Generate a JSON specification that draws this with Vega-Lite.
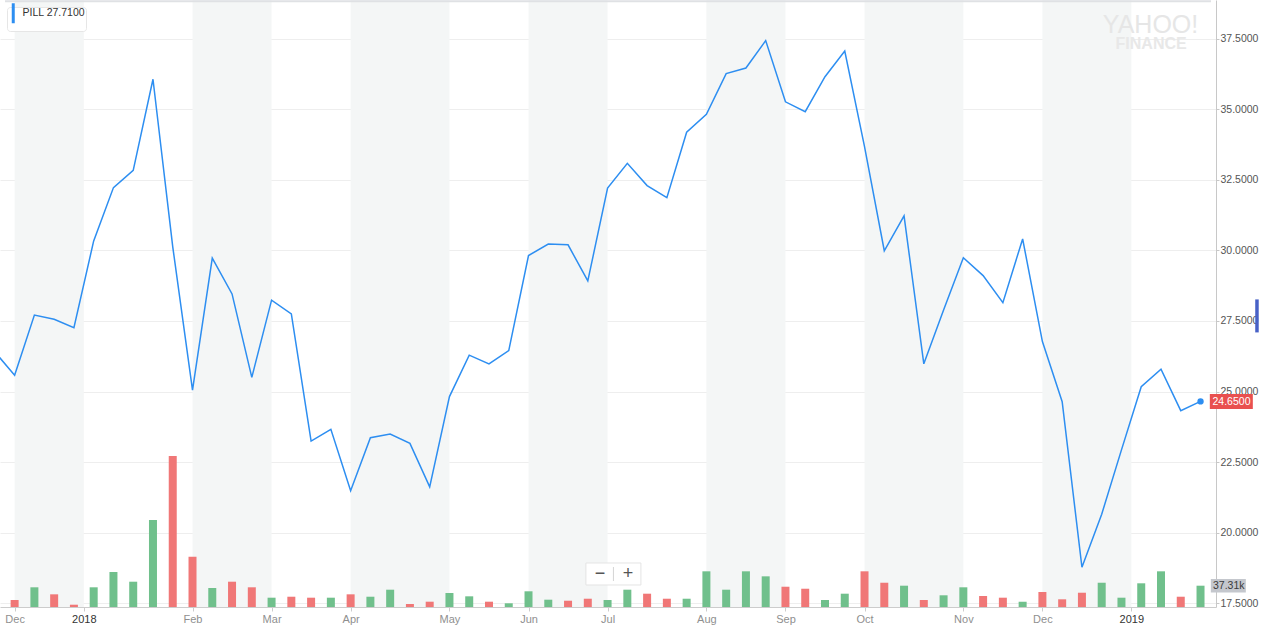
{
  "$schema": "https://vega.github.io/schema/vega-lite/v6.json",
  "width": 1264,
  "height": 629,
  "padding": 0,
  "autosize": {"type": "fit", "contains": "padding"},
  "background": "#ffffff",
  "config": {"view": {"stroke": null}, "font": "Liberation Sans"},
  "datasets": {
    "weekly": [
      {"date": "2017-11-27", "i": -1, "close": 26.40, "volume": null, "change": null},
      {"date": "2017-12-04", "i": 0, "close": 25.58, "volume": 12300, "change": "down"},
      {"date": "2017-12-11", "i": 1, "close": 27.71, "volume": 34500, "change": "up"},
      {"date": "2017-12-18", "i": 2, "close": 27.56, "volume": 22200, "change": "down"},
      {"date": "2017-12-25", "i": 3, "close": 27.26, "volume": 4000, "change": "down"},
      {"date": "2018-01-01", "i": 4, "close": 30.34, "volume": 34500, "change": "up"},
      {"date": "2018-01-08", "i": 5, "close": 32.23, "volume": 61300, "change": "up"},
      {"date": "2018-01-15", "i": 6, "close": 32.84, "volume": 44300, "change": "up"},
      {"date": "2018-01-22", "i": 7, "close": 36.07, "volume": 152300, "change": "up"},
      {"date": "2018-01-29", "i": 8, "close": 30.13, "volume": 264300, "change": "down"},
      {"date": "2018-02-05", "i": 9, "close": 25.05, "volume": 88000, "change": "down"},
      {"date": "2018-02-12", "i": 10, "close": 29.73, "volume": 33300, "change": "up"},
      {"date": "2018-02-19", "i": 11, "close": 28.46, "volume": 44300, "change": "down"},
      {"date": "2018-02-26", "i": 12, "close": 25.50, "volume": 34500, "change": "down"},
      {"date": "2018-03-05", "i": 13, "close": 28.24, "volume": 16300, "change": "up"},
      {"date": "2018-03-12", "i": 14, "close": 27.75, "volume": 18000, "change": "down"},
      {"date": "2018-03-19", "i": 15, "close": 23.24, "volume": 16300, "change": "down"},
      {"date": "2018-03-26", "i": 16, "close": 23.66, "volume": 16300, "change": "up"},
      {"date": "2018-04-02", "i": 17, "close": 21.48, "volume": 22200, "change": "down"},
      {"date": "2018-04-09", "i": 18, "close": 23.36, "volume": 18000, "change": "up"},
      {"date": "2018-04-16", "i": 19, "close": 23.49, "volume": 30300, "change": "up"},
      {"date": "2018-04-23", "i": 20, "close": 23.16, "volume": 5300, "change": "down"},
      {"date": "2018-04-30", "i": 21, "close": 21.62, "volume": 9300, "change": "down"},
      {"date": "2018-05-07", "i": 22, "close": 24.82, "volume": 24500, "change": "up"},
      {"date": "2018-05-14", "i": 23, "close": 26.29, "volume": 18700, "change": "up"},
      {"date": "2018-05-21", "i": 24, "close": 25.98, "volume": 9300, "change": "down"},
      {"date": "2018-05-28", "i": 25, "close": 26.45, "volume": 6500, "change": "up"},
      {"date": "2018-06-04", "i": 26, "close": 29.82, "volume": 27500, "change": "up"},
      {"date": "2018-06-11", "i": 27, "close": 30.23, "volume": 12800, "change": "up"},
      {"date": "2018-06-18", "i": 28, "close": 30.20, "volume": 11000, "change": "down"},
      {"date": "2018-06-25", "i": 29, "close": 28.92, "volume": 14500, "change": "down"},
      {"date": "2018-07-02", "i": 30, "close": 32.21, "volume": 12300, "change": "up"},
      {"date": "2018-07-09", "i": 31, "close": 33.09, "volume": 30300, "change": "up"},
      {"date": "2018-07-16", "i": 32, "close": 32.30, "volume": 23300, "change": "down"},
      {"date": "2018-07-23", "i": 33, "close": 31.87, "volume": 14500, "change": "down"},
      {"date": "2018-07-30", "i": 34, "close": 34.19, "volume": 14500, "change": "up"},
      {"date": "2018-08-06", "i": 35, "close": 34.83, "volume": 62500, "change": "up"},
      {"date": "2018-08-13", "i": 36, "close": 36.27, "volume": 30300, "change": "up"},
      {"date": "2018-08-20", "i": 37, "close": 36.47, "volume": 62500, "change": "up"},
      {"date": "2018-08-27", "i": 38, "close": 37.44, "volume": 53700, "change": "up"},
      {"date": "2018-09-03", "i": 39, "close": 35.27, "volume": 35500, "change": "down"},
      {"date": "2018-09-10", "i": 40, "close": 34.92, "volume": 32000, "change": "down"},
      {"date": "2018-09-17", "i": 41, "close": 36.16, "volume": 12300, "change": "up"},
      {"date": "2018-09-24", "i": 42, "close": 37.07, "volume": 23300, "change": "up"},
      {"date": "2018-10-01", "i": 43, "close": 33.68, "volume": 62500, "change": "down"},
      {"date": "2018-10-08", "i": 44, "close": 29.99, "volume": 42500, "change": "down"},
      {"date": "2018-10-15", "i": 45, "close": 31.23, "volume": 37300, "change": "up"},
      {"date": "2018-10-22", "i": 46, "close": 25.98, "volume": 12300, "change": "down"},
      {"date": "2018-10-29", "i": 47, "close": 27.89, "volume": 20500, "change": "up"},
      {"date": "2018-11-05", "i": 48, "close": 29.74, "volume": 34500, "change": "up"},
      {"date": "2018-11-12", "i": 49, "close": 29.11, "volume": 19300, "change": "down"},
      {"date": "2018-11-19", "i": 50, "close": 28.15, "volume": 16300, "change": "down"},
      {"date": "2018-11-26", "i": 51, "close": 30.41, "volume": 9300, "change": "up"},
      {"date": "2018-12-03", "i": 52, "close": 26.77, "volume": 26300, "change": "down"},
      {"date": "2018-12-10", "i": 53, "close": 24.64, "volume": 13500, "change": "down"},
      {"date": "2018-12-17", "i": 54, "close": 18.77, "volume": 25000, "change": "down"},
      {"date": "2018-12-24", "i": 55, "close": 20.65, "volume": 42500, "change": "up"},
      {"date": "2018-12-31", "i": 56, "close": 22.93, "volume": 16300, "change": "up"},
      {"date": "2019-01-07", "i": 57, "close": 25.17, "volume": 41500, "change": "up"},
      {"date": "2019-01-14", "i": 58, "close": 25.79, "volume": 62500, "change": "up"},
      {"date": "2019-01-21", "i": 59, "close": 24.32, "volume": 18000, "change": "down"},
      {"date": "2019-01-28", "i": 60, "close": 24.65, "volume": 37310, "change": "up"}
    ],
    "months": [
      {"month": "Dec 2017", "start": 0, "end": 3.5},
      {"month": "Feb 2018", "start": 9, "end": 13},
      {"month": "Apr 2018", "start": 17, "end": 22},
      {"month": "Jun 2018", "start": 26, "end": 30},
      {"month": "Aug 2018", "start": 35, "end": 39},
      {"month": "Oct 2018", "start": 43, "end": 48},
      {"month": "Dec 2018", "start": 52, "end": 56.5}
    ]
  },
  "data": {"name": "weekly"},
  "resolve": {"scale": {"y": "independent", "color": "independent"}},
  "encoding": {
    "x": {
      "field": "i", "type": "quantitative",
      "scale": {"domain": [-0.487, 60.53], "nice": false, "zero": false},
      "axis": {
        "values": [0, 3.5, 9, 13, 17, 22, 26, 30, 35, 39, 43, 48, 52, 56.5],
        "labelExpr": "datum.value == 0 ? 'Dec' : datum.value == 3.5 ? '2018' : datum.value == 9 ? 'Feb' : datum.value == 13 ? 'Mar' : datum.value == 17 ? 'Apr' : datum.value == 22 ? 'May' : datum.value == 26 ? 'Jun' : datum.value == 30 ? 'Jul' : datum.value == 35 ? 'Aug' : datum.value == 39 ? 'Sep' : datum.value == 43 ? 'Oct' : datum.value == 48 ? 'Nov' : datum.value == 52 ? 'Dec' : '2019'",
        "title": null,
        "grid": false,
        "domainColor": "#cccccc",
        "tickColor": "#cccccc",
        "tickSize": 4,
        "labelPadding": 2,
        "labelFont": "Liberation Sans",
        "labelFontSize": 11,
        "labelColor": {"condition": {"test": "datum.value == 3.5 || datum.value == 56.5", "value": "#333333"}, "value": "#8f8f8f"},
        "labelFlush": false,
        "labelOverlap": false,
        "minExtent": 22,
        "maxExtent": 22
      }
    }
  },
  "layer": [
    {
      "data": {"name": "months"},
      "mark": {"type": "rect", "color": "#f4f6f6"},
      "encoding": {
        "x": {"field": "start", "type": "quantitative", "title": null},
        "x2": {"field": "end"}
      }
    },
    {
      "layer": [
        {
          "mark": {"type": "bar", "size": 8},
          "encoding": {
            "y": {"field": "volume", "type": "quantitative", "scale": {"domain": [0, 1063000], "nice": false}, "axis": null},
            "color": {"field": "change", "type": "nominal", "scale": {"domain": ["up", "down"], "range": ["#70c08c", "#f07777"]}, "legend": null}
          }
        },
        {
          "transform": [{"filter": "datum.i == 60"}],
          "mark": {"type": "point", "shape": "M1.03,-0.67H4.53V0.67H1.03Z", "size": 400, "filled": true, "opacity": 1, "color": "#c4c7cd", "strokeWidth": 0},
          "encoding": {
            "y": {"field": "volume", "type": "quantitative", "axis": null}
          }
        },
        {
          "transform": [{"filter": "datum.i == 60"}],
          "mark": {"type": "text", "align": "left", "baseline": "middle", "dx": 12.5, "dy": 0.5, "fontSize": 10.5, "color": "#3a3a3a", "font": "Liberation Sans"},
          "encoding": {
            "y": {"field": "volume", "type": "quantitative", "axis": null},
            "text": {"field": "volume", "type": "quantitative", "format": ".4s"}
          }
        }
      ]
    },
    {
      "layer": [
        {
          "transform": [{"filter": "datum.i == 60"}],
          "mark": {"type": "rule", "color": "#dfe1e4", "strokeWidth": 2},
          "encoding": {"x": {"datum": -0.487}, "x2": {"datum": 60.53}, "y": {"datum": 38.84}}
        },
        {
          "mark": {"type": "line", "strokeWidth": 1.5, "clip": true},
          "encoding": {
            "y": {
              "field": "close", "type": "quantitative",
              "scale": {"domain": [17.36, 38.88], "nice": false, "zero": false},
              "axis": {
                "orient": "right",
                "values": [17.5, 20, 22.5, 25, 27.5, 30, 32.5, 35, 37.5],
                "format": ".4f",
                "title": null,
                "grid": true,
                "gridColor": "#eeeeee",
                "domainColor": "#c8c8c8",
                "tickColor": "#c8c8c8",
                "tickSize": 3,
                "labelPadding": 1,
                "labelFont": "Liberation Sans",
                "labelFontSize": 10.5,
                "labelColor": "#555555",
                "minExtent": 48,
                "maxExtent": 48
              }
            },
            "color": {
              "datum": "PILL 27.7100", "type": "nominal",
              "scale": {"range": ["#2d8ef1"]},
              "legend": {
                "orient": "top-left", "offset": 7, "title": null,
                "fillColor": "#ffffff", "strokeColor": "#e6e6e6", "cornerRadius": 3, "padding": 1,
                "symbolType": "M0,-5V5", "symbolSize": 16, "symbolStrokeWidth": 3, "symbolStrokeColor": "#2d8ef1",
                "labelFont": "Liberation Sans", "labelFontSize": 10.5, "labelColor": "#333333", "labelOffset": 4
              }
            }
          }
        },
        {
          "transform": [{"filter": "datum.i == 60"}],
          "mark": {"type": "point", "size": 40, "filled": true, "opacity": 1, "color": "#2d8ef1"},
          "encoding": {
            "y": {"field": "close", "type": "quantitative"}
          }
        },
        {
          "transform": [{"filter": "datum.i == 60"}],
          "mark": {"type": "point", "shape": "M0.93,-0.75H5.23V0.75H0.93Z", "size": 400, "filled": true, "opacity": 1, "color": "#e9504f", "strokeWidth": 0},
          "encoding": {
            "y": {"field": "close", "type": "quantitative"}
          }
        },
        {
          "transform": [{"filter": "datum.i == 60"}],
          "mark": {"type": "text", "align": "left", "baseline": "middle", "dx": 12, "dy": 0.5, "fontSize": 10.5, "color": "#ffffff", "font": "Liberation Sans"},
          "encoding": {
            "y": {"field": "close", "type": "quantitative"},
            "text": {"field": "close", "type": "quantitative", "format": ".4f"}
          }
        },
        {
          "transform": [{"filter": "datum.i == 60"}],
          "mark": {"type": "point", "shape": "M5.47,-1.65H5.82V1.65H5.47Z", "size": 400, "filled": true, "opacity": 1, "color": "#4861c6", "strokeWidth": 0},
          "encoding": {"y": {"datum": 27.68}}
        },
        {
          "transform": [{"filter": "datum.i == 60"}],
          "mark": {"type": "point", "shape": "M-2.75,-1.1H2.75V1.1H-2.75Z", "size": 400, "filled": true, "opacity": 1, "fill": "#ffffff", "stroke": "#e4e4e4", "strokeWidth": 1},
          "encoding": {"x": {"datum": 30.296}, "y": {"datum": 18.53}}
        },
        {
          "transform": [{"filter": "datum.i == 60"}],
          "mark": {"type": "point", "shape": "M0,-0.7V0.7", "size": 400, "filled": false, "opacity": 1, "stroke": "#d4d4d4", "strokeWidth": 1},
          "encoding": {"x": {"datum": 30.296}, "y": {"datum": 18.53}}
        },
        {
          "transform": [{"filter": "datum.i == 60"}],
          "mark": {"type": "text", "text": "−", "font": "Liberation Sans", "fontSize": 18, "color": "#555555", "align": "center", "baseline": "middle", "dx": -13.5, "dy": 0},
          "encoding": {"x": {"datum": 30.296}, "y": {"datum": 18.53}}
        },
        {
          "transform": [{"filter": "datum.i == 60"}],
          "mark": {"type": "text", "text": "+", "font": "Liberation Sans", "fontSize": 18, "color": "#555555", "align": "center", "baseline": "middle", "dx": 14.5, "dy": 0},
          "encoding": {"x": {"datum": 30.296}, "y": {"datum": 18.53}}
        },
        {
          "transform": [{"filter": "datum.i == 60"}],
          "mark": {"type": "text", "text": "YAHOO!", "font": "Liberation Sans", "fontSize": 25, "color": "#e6e6e6", "align": "center", "baseline": "alphabetic"},
          "encoding": {"x": {"datum": 57.47}, "y": {"datum": 37.71}}
        },
        {
          "transform": [{"filter": "datum.i == 60"}],
          "mark": {"type": "text", "text": "FINANCE", "font": "Liberation Sans", "fontSize": 16, "fontWeight": "bold", "color": "#e8e8e8", "align": "center", "baseline": "alphabetic"},
          "encoding": {"x": {"datum": 57.5}, "y": {"datum": 37.14}}
        }
      ]
    }
  ]
}
